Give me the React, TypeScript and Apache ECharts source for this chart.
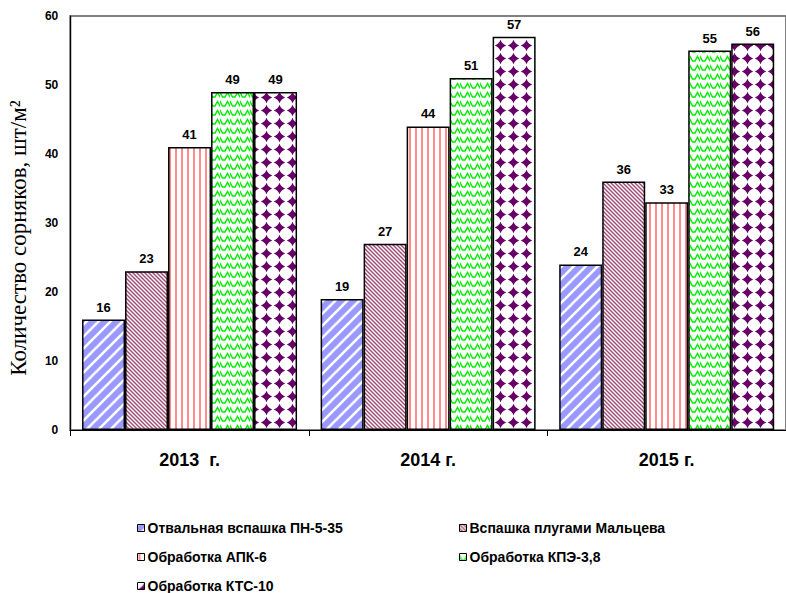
import React, { useEffect, useRef } from "react";
import * as echarts from "echarts";

const categories = ["2013  г.", "2014 г.", "2015 г."];
const seriesNames = [
  "Отвальная вспашка ПН-5-35",
  "Вспашка плугами Мальцева",
  "Обработка АПК-6",
  "Обработка КПЭ-3,8",
  "Обработка КТС-10",
];
const valsPN = [16, 19, 24];
const valsMaltsev = [23, 27, 36];
const valsAPK = [41, 44, 33];
const valsKPE = [49, 51, 55];
const valsKTS = [49, 57, 56];
const seriesValues = [valsPN, valsMaltsev, valsAPK, valsKPE, valsKTS];
const yTicks = { min: 0, max: 60, interval: 10 };
const yTitle = "Количество сорняков, шт/м²";

function makeCanvas(w: number, h: number, draw: (ctx: CanvasRenderingContext2D) => void) {
  const c = document.createElement("canvas");
  c.width = w;
  c.height = h;
  const ctx = c.getContext("2d")!;
  draw(ctx);
  return c;
}

function buildPatterns() {
  const blue = makeCanvas(12, 12, (ctx) => {
    ctx.fillStyle = "#9999FF";
    ctx.fillRect(0, 0, 12, 12);
    ctx.strokeStyle = "#FFFFFF";
    ctx.lineWidth = 2.6;
    for (const o of [-12, 0, 12]) {
      ctx.beginPath();
      ctx.moveTo(o - 2, 14);
      ctx.lineTo(o + 14, -2);
      ctx.stroke();
    }
  });
  const pink = makeCanvas(8, 8, (ctx) => {
    ctx.fillStyle = "#FFFFFF";
    ctx.fillRect(0, 0, 8, 8);
    ctx.strokeStyle = "#A04A78";
    ctx.lineWidth = 1.4;
    for (const o of [-8, -4, 0, 4, 8]) {
      ctx.beginPath();
      ctx.moveTo(o - 1, -1);
      ctx.lineTo(o + 9, 9);
      ctx.stroke();
    }
  });
  const red = makeCanvas(6, 6, (ctx) => {
    ctx.fillStyle = "#FFFFFF";
    ctx.fillRect(0, 0, 6, 6);
    ctx.fillStyle = "#FF8C8C";
    ctx.fillRect(1, 0, 2, 6);
  });
  const green = makeCanvas(10, 9, (ctx) => {
    ctx.fillStyle = "#FFFFFF";
    ctx.fillRect(0, 0, 10, 9);
    ctx.strokeStyle = "#00EE00";
    ctx.lineWidth = 1.5;
    ctx.beginPath();
    ctx.moveTo(-2.5, 7);
    ctx.lineTo(0, 2.5);
    ctx.lineTo(2.5, 7);
    ctx.lineTo(5, 7);
    ctx.lineTo(7.5, 2.5);
    ctx.lineTo(10, 7);
    ctx.lineTo(12.5, 7);
    ctx.stroke();
  });
  const purple = makeCanvas(13, 13, (ctx) => {
    ctx.fillStyle = "#FFFFFF";
    ctx.fillRect(0, 0, 13, 13);
    ctx.fillStyle = "#660066";
    ctx.beginPath();
    ctx.moveTo(6.5, 0.8);
    ctx.quadraticCurveTo(8, 5, 12.2, 6.5);
    ctx.quadraticCurveTo(8, 8, 6.5, 12.2);
    ctx.quadraticCurveTo(5, 8, 0.8, 6.5);
    ctx.quadraticCurveTo(5, 5, 6.5, 0.8);
    ctx.closePath();
    ctx.fill();
  });
  return [blue, pink, red, green, purple];
}

export default function App() {
  const ref = useRef<HTMLDivElement>(null);
  useEffect(() => {
    if (!ref.current) return;
    const chart = echarts.init(ref.current, undefined, { renderer: "svg" });
    const pats = buildPatterns();
    const legendPos = [
      { left: 137, top: 521 },
      { left: 459, top: 521 },
      { left: 137, top: 550 },
      { left: 459, top: 550 },
      { left: 137, top: 579 },
    ];
    const font = "'Liberation Sans', Arial, sans-serif";
    chart.setOption({
      animation: false,
      backgroundColor: "#FFFFFF",
      grid: {
        left: 70.25,
        top: 16,
        width: 721.5,
        height: 414,
        show: true,
        borderColor: "#808080",
        borderWidth: 2,
        backgroundColor: "transparent",
      },
      xAxis: {
        type: "category",
        data: categories,
        axisLine: { lineStyle: { color: "#000", width: 1.2 } },
        axisTick: { show: true, length: 6, lineStyle: { color: "#000" } },
        axisLabel: {
          margin: 21,
          fontFamily: font,
          fontWeight: "bold",
          fontSize: 18,
          color: "#000",
        },
      },
      yAxis: {
        type: "value",
        min: yTicks.min,
        max: yTicks.max,
        interval: yTicks.interval,
        axisLine: { show: true, lineStyle: { color: "#000", width: 1.2 } },
        axisTick: { show: false },
        splitLine: { show: false },
        axisLabel: {
          margin: 12,
          fontFamily: font,
          fontWeight: "bold",
          fontSize: 12,
          color: "#000",
        },
      },
      legend: seriesNames.map((n, i) => ({
        data: [n],
        left: legendPos[i].left,
        top: legendPos[i].top,
        padding: 0,
        itemWidth: 7,
        itemHeight: 7,
        icon: "rect",
        itemStyle: { borderColor: "#000", borderWidth: 1 },
        textStyle: {
          fontFamily: font,
          fontWeight: "bold",
          fontSize: 14,
          lineHeight: 14,
          color: "#000",
          padding: [0, 0, 0, -2],
        },
      })),
      graphic: [
        {
          type: "text",
          x: 18,
          y: 238,
          rotation: Math.PI / 2,
          style: {
            text: yTitle,
            fontFamily: "'Liberation Serif', 'Times New Roman', serif",
            fontSize: 23,
            fill: "#000",
            align: "center",
            verticalAlign: "middle",
          },
        },
      ],
      series: seriesNames.map((n, i) => ({
        name: n,
        type: "bar",
        data: seriesValues[i],
        barWidth: 43,
        barGap: "0%",
        itemStyle: {
          color: { image: pats[i], repeat: "repeat" },
          borderColor: "#000",
          borderWidth: 1.5,
        },
        label: {
          show: true,
          position: "top",
          distance: 6,
          fontFamily: font,
          fontWeight: "bold",
          fontSize: 13,
          color: "#000",
        },
      })),
    });
    return () => chart.dispose();
  }, []);
  return (
    <div
      ref={ref}
      style={{ position: "absolute", left: 0, top: 0, width: 786, height: 593 }}
    />
  );
}
